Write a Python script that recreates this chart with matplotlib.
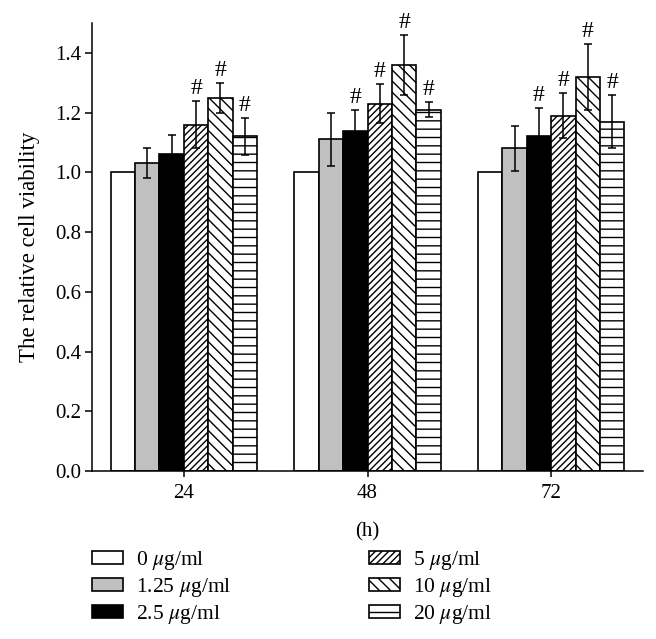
import matplotlib
matplotlib.use("Agg")
import matplotlib.pyplot as plt
import numpy as np

plt.rcParams['font.family'] = 'serif'
plt.rcParams['font.serif'] = ['Liberation Serif', 'DejaVu Serif']
plt.rcParams['mathtext.fontset'] = 'stix'
plt.rcParams['hatch.linewidth'] = 1.0

# Data
times = ["24", "48", "72"]
doses = ["0", "1.25", "2.5", "5", "10", "20"]
means = [
    [1.00, 1.00, 1.00],   # 0 ug/ml
    [1.03, 1.11, 1.08],   # 1.25
    [1.06, 1.14, 1.12],   # 2.5
    [1.16, 1.23, 1.19],   # 5
    [1.25, 1.36, 1.32],   # 10
    [1.12, 1.21, 1.17],   # 20
]
errors = [
    [0.00, 0.00, 0.00],
    [0.05, 0.09, 0.075],
    [0.065, 0.07, 0.095],
    [0.08, 0.065, 0.075],
    [0.05, 0.10, 0.11],
    [0.063, 0.025, 0.09],
]
# significance marks (#) per dose and time
signif = [
    [False, False, False],
    [False, False, False],
    [False, True, True],
    [True, True, True],
    [True, True, True],
    [True, True, True],
]

colors = ['white', '#c0c0c0', 'black', 'white', 'white', 'white']
hatches = [None, None, None, '/////', '\\\\\\', '--']

fig = plt.figure(figsize=(6.56, 6.39), dpi=100)
ax = fig.add_axes([92 / 656, 1 - 471 / 639, (643 - 92) / 656, (471 - 23) / 639])

x = np.arange(len(times))
w = 0.133
bars = []
for i in range(len(doses)):
    pos = x + (i - 2.5) * w
    b = ax.bar(pos, means[i], w, color=colors[i], edgecolor='black',
               linewidth=1.2, hatch=hatches[i], zorder=2,
               label=doses[i] + r" $\mu$g/ml")
    bars.append(b)
    if i > 0:
        ax.errorbar(pos, means[i], yerr=errors[i], fmt='none', ecolor='black',
                    elinewidth=1.1, capsize=3.2, capthick=1.1, zorder=3)
    for j in range(len(times)):
        if signif[i][j]:
            ax.text(pos[j], means[i][j] + errors[i][j] + 0.006, "#",
                    ha='center', va='bottom', fontsize=17)

ax.set_xlim(-0.5, 2.5)
ax.set_ylim(0, 1.5)
ax.set_yticks(np.arange(0, 1.41, 0.2))
ax.set_yticklabels([f"{v:.1f}" for v in np.arange(0, 1.41, 0.2)])
ax.set_xticks(x)
ax.set_xticklabels(times)
ax.tick_params(axis='y', direction='out', length=5, width=1.1, labelsize=15, pad=3)
ax.tick_params(axis='x', direction='out', length=4, width=1.1, labelsize=15, pad=5)
for s in ['top', 'right']:
    ax.spines[s].set_visible(False)
for s in ['left', 'bottom']:
    ax.spines[s].set_linewidth(1.1)

ax.set_ylabel("The relative cell viability", fontsize=16.5)
ax.yaxis.set_label_coords(-0.094, 0.5)
ax.set_xlabel("(h)", fontsize=15)
ax.xaxis.set_label_coords(0.5, -(532 - 471) / 448)
ax.xaxis.label.set_va('center')

leg_kw = dict(loc='upper left', frameon=False, fontsize=15.5, borderpad=0,
              borderaxespad=0, handlelength=1.44, handleheight=0.6,
              handletextpad=0.6, labelspacing=0.19)
fig.legend(bars[:3], [b.get_label() for b in bars[:3]],
           bbox_to_anchor=(92 / 656, 1 - 549 / 639), **leg_kw)
fig.legend(bars[3:], [b.get_label() for b in bars[3:]],
           bbox_to_anchor=(369 / 656, 1 - 549 / 639), **leg_kw)

fig.savefig("out.png", dpi=100)
